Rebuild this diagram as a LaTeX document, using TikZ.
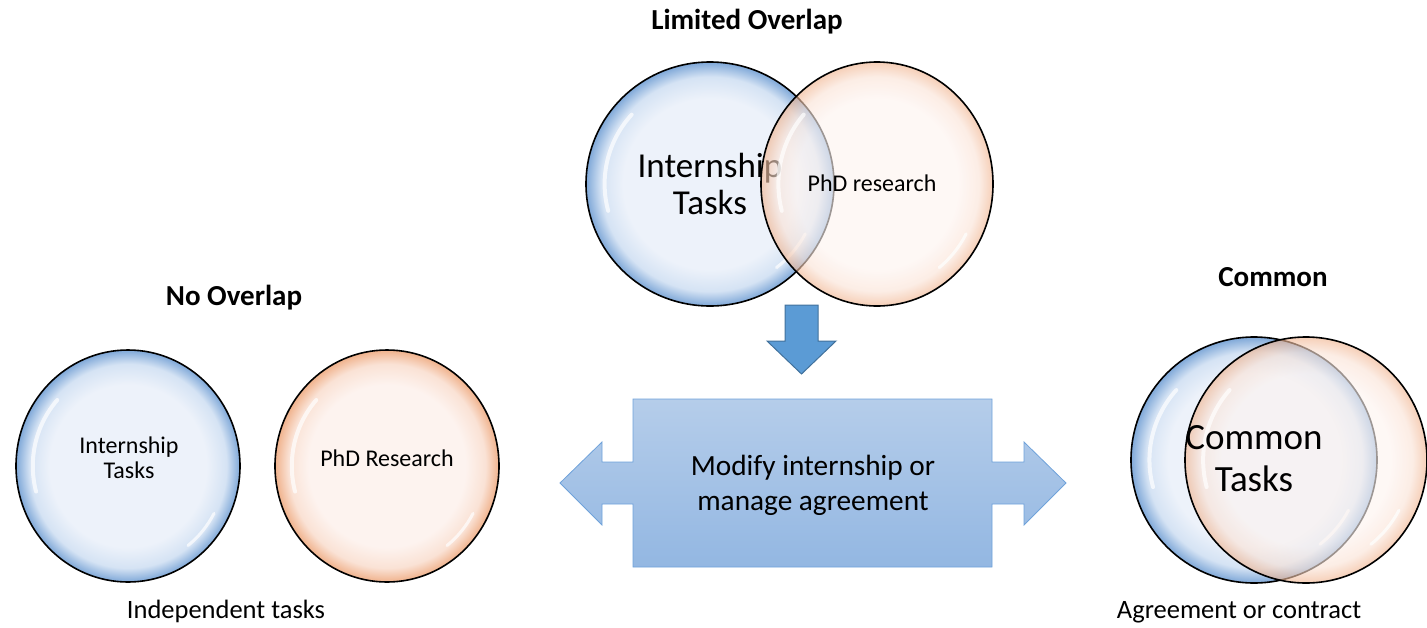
\documentclass[tikz,border=0pt]{standalone}
\usepackage{fontspec}
\setmainfont{Carlito}
\usetikzlibrary{shapes.geometric}

% bubble colours
\definecolor{bluein}{HTML}{EDF2FA}
\definecolor{bluemid}{HTML}{D5E3F4}
\definecolor{bluerim}{HTML}{7FA8D8}
\definecolor{orin}{HTML}{FDF3EF}
\definecolor{ormid}{HTML}{FAE2D5}
\definecolor{orrim}{HTML}{F0B28C}
% arrow colours
\definecolor{boxtop}{HTML}{B5CDEA}
\definecolor{boxbot}{HTML}{93B7E2}
\definecolor{boxline}{HTML}{6FA2DA}
\definecolor{downfill}{HTML}{5B9BD5}
\definecolor{downline}{HTML}{41719C}

% the middle 50bp square of a shading fills the path's bounding box,
% so the rim of the ball sits at 25bp
\pgfdeclareradialshading{bubbleblue}{\pgfpoint{0bp}{0bp}}{%
  color(0bp)=(bluein); color(17.5bp)=(bluein); color(22bp)=(bluemid);
  color(25bp)=(bluerim); color(50bp)=(bluerim)}
\pgfdeclareradialshading{bubbleorange}{\pgfpoint{0bp}{0bp}}{%
  color(0bp)=(orin); color(17.5bp)=(orin); color(22bp)=(ormid);
  color(25bp)=(orrim); color(50bp)=(orrim)}

\tikzset{
  bubble/.style={ellipse, draw=black, line width=1.6pt, inner sep=0pt},
  blueball/.style={bubble, shading=bubbleblue},
  orangeball/.style={bubble, shading=bubbleorange},
  glint/.style={white, line width=4pt, line cap=round, opacity=0.7},
  title/.style={font=\fontsize{29}{34}\selectfont\bfseries},
  caption/.style={font=\fontsize{26.5}{31}\selectfont},
  small/.style={font=\fontsize{24}{25}\selectfont, align=center},
}

% white highlights on a bubble: #1 node, #2 x radius, #3 y radius
\newcommand{\glints}[3]{%
  \begin{scope}[shift={(#1.center)}]
    \draw[glint] (165:{0.85*#2} and {0.85*#3})
      arc[start angle=165, end angle=222, x radius={0.85*#2}, y radius={0.85*#3}];
    \draw[glint, line width=3pt] (28:{0.87*#2} and {0.87*#3})
      arc[start angle=28, end angle=52, x radius={0.87*#2}, y radius={0.87*#3}];
  \end{scope}}

\begin{document}
\begin{tikzpicture}[x=1pt, y=-1pt]
  \useasboundingbox (0,0) rectangle (1427,627);

  % ---- limited overlap ----
  \node[title] (tlim) at (747,22) {Limited Overlap};
  \node[blueball, minimum width=248, minimum height=244] (limA) at (710,184) {};
  \glints{limA}{124}{122}
  \node[align=center, font=\fontsize{35}{37}\selectfont] (limAtxt) at (710,184) {Internship\\Tasks};
  \node[orangeball, minimum width=232, minimum height=244, fill opacity=0.62, draw opacity=1] (limB) at (877,184) {};
  \glints{limB}{116}{122}
  \node[small] (limBtxt) at (872,183) {PhD research};

  % ---- down arrow ----
  \path[fill=downfill, draw=downline, line width=1pt]
    (785,305) -- (818,305) -- (818,341) -- (836,341) -- (801.5,374)
    -- (767,341) -- (785,341) -- cycle;

  % ---- left/right arrow box ----
  \shadedraw[top color=boxtop, bottom color=boxbot, draw=boxline, line width=0.8pt]
    (560,483) -- (602,442) -- (602,462) -- (633,462) -- (633,399)
    -- (992,399) -- (992,462) -- (1024,462) -- (1024,442) -- (1066,483)
    -- (1024,525) -- (1024,504) -- (992,504) -- (992,567) -- (633,567)
    -- (633,504) -- (602,504) -- (602,525) -- cycle;
  \node[align=center, font=\fontsize{29.3}{35}\selectfont] (modify) at (813,485)
    {Modify internship or\\manage agreement};

  % ---- no overlap ----
  \node[title] (tno) at (234,298) {No Overlap};
  \node[blueball, minimum width=224, minimum height=232] (noA) at (128,466) {};
  \glints{noA}{112}{116}
  \node[small] (noAtxt) at (129,458) {Internship\\Tasks};
  \node[orangeball, minimum width=224, minimum height=232] (noB) at (387,466) {};
  \glints{noB}{112}{116}
  \node[small] (noBtxt) at (387,458) {PhD Research};
  \node[caption] (indep) at (226,611) {Independent tasks};

  % ---- common ----
  \node[title] (tcom) at (1273,277) {Common};
  \node[blueball, minimum width=246, minimum height=246] (comA) at (1254,460) {};
  \glints{comA}{123}{123}
  \node[orangeball, minimum width=242, minimum height=246, fill opacity=0.62, draw opacity=1] (comB) at (1306,460) {};
  \glints{comB}{121}{123}
  \node[align=center, font=\fontsize{37}{42}\selectfont] (comtxt) at (1254,459) {Common\\Tasks};
  \node[caption] (agree) at (1239,612) {Agreement or contract};
\end{tikzpicture}
\end{document}
